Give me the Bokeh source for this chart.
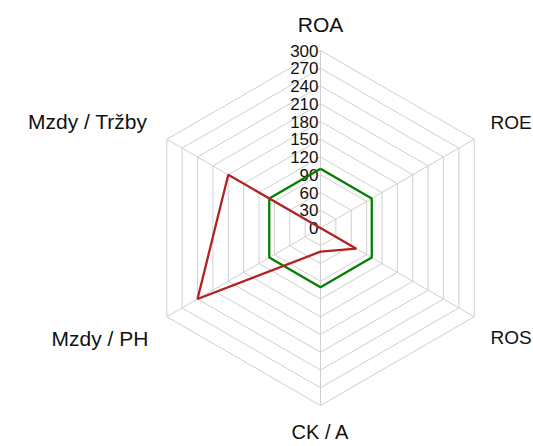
import numpy as np
from bokeh.plotting import figure
from bokeh.models import Range1d, ColumnDataSource
from bokeh.core.properties import value
from bokeh.embed import file_html
from bokeh.resources import INLINE

# ---- data ----
categories = ["ROA", "ROE", "ROS", "CK / A", "Mzdy / PH", "Mzdy / Tržby"]
benchmark = [100, 100, 100, 100, 100, 100]
company = [0, 0, 70, 40, 240, 180]
tick_values = [0, 30, 60, 90, 120, 150, 180, 210, 240, 270, 300]
tick_labels = ["0", "30", "60", "90", "120", "150", "180", "210", "240", "270", "300"]

# ---- geometry ----
n = len(categories)
angles = np.deg2rad(90 - 360.0 / n * np.arange(n))
r_max = tick_values[-1]

W, H = 533, 446
px_per_unit = 177.5 / r_max
cx, cy = 320, 227.5  # centre in figure pixels (from left, from top)

p = figure(width=W, height=H, output_backend="svg", toolbar_location=None,
           min_border=0, outline_line_color=None,
           x_range=Range1d(-cx / px_per_unit, (W - cx) / px_per_unit),
           y_range=Range1d(-(H - cy) / px_per_unit, cy / px_per_unit))
p.xaxis.visible = False
p.yaxis.visible = False
p.xgrid.visible = False
p.ygrid.visible = False
p.background_fill_color = "white"
p.border_fill_color = "white"

grid_col = "#cfcfcf"
# rings
ring_xs, ring_ys = [], []
for t in tick_values[1:]:
    ring_xs.append(list(t * np.cos(angles)) + [t * np.cos(angles[0])])
    ring_ys.append(list(t * np.sin(angles)) + [t * np.sin(angles[0])])
p.multi_line(ring_xs, ring_ys, line_color=grid_col, line_width=1)
# spokes
p.segment(x0=[0] * n, y0=[0] * n, x1=list(r_max * np.cos(angles)),
          y1=list(r_max * np.sin(angles)), line_color=grid_col, line_width=1)

# tick labels
p.text(x=[0] * len(tick_values), y=tick_values, text=tick_labels,
       x_offset=-2, text_align="right", text_baseline="middle",
       text_font=value("Liberation Sans"), text_font_size=value("17px"),
       text_color="#111111")

# category labels
r_lab = 330
lab_x = list(r_lab * np.cos(angles))
lab_y = list(r_lab * np.sin(angles))
src = ColumnDataSource(dict(
    x=lab_x, y=lab_y, text=categories,
    align=["center", "left", "left", "center", "right", "right"],
    size=["21px", "19px", "19px", "20px", "21px", "21px"],
    xo=[0, 1, 1, 0, -3, -4],
    yo=[-8, -8, 12, 9, 13, -9],
))
p.text(x="x", y="y", text="text", source=src, text_align="align",
       text_baseline="alphabetic", x_offset="xo", y_offset="yo",
       text_font=value("Liberation Sans"), text_font_size="size",
       text_color="#111111")

def closed(vals):
    xs = [v * np.cos(a) for v, a in zip(vals, angles)]
    ys = [v * np.sin(a) for v, a in zip(vals, angles)]
    return xs + [xs[0]], ys + [ys[0]]

gx, gy = closed(benchmark)
p.line(gx, gy, line_color="#008000", line_width=2.3)
rx, ry = closed(company)
p.line(rx, ry, line_color="#b22222", line_width=2.3)

open("out.html", "w").write(file_html(p, INLINE))
